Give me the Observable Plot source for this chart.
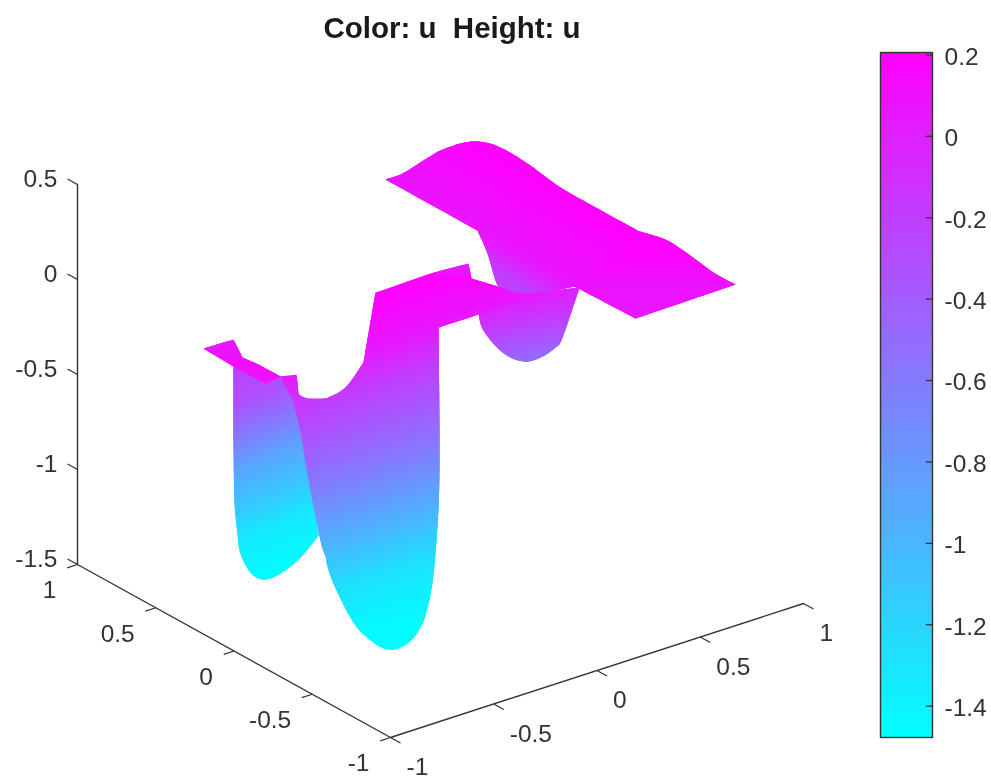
<!DOCTYPE html>
<html><head><meta charset="utf-8">
<script src="https://cdn.jsdelivr.net/npm/d3@7"></script>
<script src="https://cdn.jsdelivr.net/npm/@observablehq/plot@0.6"></script>
<style>html,body{margin:0;background:#fff}#c{position:relative;width:991px;height:779px;overflow:hidden}#c svg{position:absolute;top:0;filter:blur(0.45px)}</style>
</head><body><div id="c"></div>
<script>
// Axis tick values
const xTicks=[-1,-0.5,0,0.5,1];
const yTicks=[-1,-0.5,0,0.5,1];
const zTicks=[-1.5,-1,-0.5,0,0.5];
const colorTicks=[-1.4,-1.2,-1,-0.8,-0.6,-0.4,-0.2,0,0.2];
const colorDomain=[-1.477,0.206];
const titleText="Color: u  Height: u";

// Surface patches: outlines in the view plane (a third entry marks a sharp corner), and u along the patch
const backWell=[[4.78,3.13,1],[4.83,3.30],[5.02,3.52],[5.23,3.61],[5.40,3.57],[5.55,3.47],[5.62,3.37],[5.79,2.87,1],[5.30,2.93,1]];
const backWellU=[[4.05,0],[4.65,-0.5]];
const backSheet=[[3.85,1.79,1],[4.02,1.73],[4.23,1.60],[4.40,1.50],[4.60,1.43],[4.75,1.41],[4.93,1.44],[5.10,1.52],[5.30,1.65],[5.60,1.87],[5.97,2.08],[6.37,2.30,1],[6.20,2.50],[6.00,2.65],[5.73,2.82],[5.53,2.90],[5.33,2.93],[5.13,2.92],[5.00,2.87],[4.95,2.80],[4.87,2.53],[4.77,2.30,1]];
const backSheetU=[[-1.25,0.2],[-0.36,0.06],[-0.05,-0.22]];
const bigWallLeft=[[2.97,3.93,1],[3.07,3.98],[3.28,3.98,1],[3.28,5.62,1],[3.20,5.40],[3.07,4.73],[3.02,4.40]];
const bigWallRight=[[3.26,3.98,1],[3.45,3.87],[3.63,3.62,1],[3.75,2.92,1],[4.30,2.73,1],[4.71,2.78,1],[5.00,2.87],[5.13,2.92],[5.33,2.93],[5.53,2.90],[5.73,2.82,1],[5.79,2.85,1],[5.30,2.95,1],[4.78,3.14,1],[4.38,3.27,1],[4.39,4.40],[4.38,5.07],[4.33,5.73],[4.27,6.07],[4.20,6.27],[4.07,6.43],[3.90,6.49],[3.73,6.42],[3.53,6.22],[3.33,5.83],[3.26,5.62,1]];
const bigWallU=[[4.28,0.18],[4.71,0.05],[5.12,-0.22],[5.40,-0.35],[5.85,-0.58],[6.45,-0.93],[7.00,-1.28],[7.55,-1.45]];
const frontSheet=[[6.37,2.30,1],[6.50,2.34],[6.67,2.40],[6.87,2.53],[7.13,2.72],[7.35,2.84,1],[6.35,3.18,1],[5.80,2.89,1],[5.73,2.82],[6.00,2.65],[6.20,2.50]];
const frontSheetU=[[2.45,0.2],[2.90,0.08],[3.18,0.05]];
const tipFlap=[[4.30,2.73,1],[4.68,2.63,1],[4.71,2.78,1]];
const tipFlapU=[[2.63,0],[2.78,0.16]];
const leftWall=[[2.33,3.66,1],[2.65,3.83,1],[2.80,3.76,1],[2.97,3.93,1],[3.02,4.40,1],[3.18,5.35,1],[3.00,5.57],[2.80,5.73],[2.63,5.79],[2.50,5.72],[2.40,5.53],[2.37,5.33],[2.34,5.00],[2.33,4.40,1]];
const leftWallU=[[4.59,-0.2],[4.99,-0.33],[5.33,-0.61],[5.60,-0.85],[6.40,-1.35],[6.80,-1.45]];
const leftFlap=[[2.03,3.48,1],[2.33,3.39,1],[2.42,3.57,1],[2.58,3.64,1],[2.80,3.76,1],[2.65,3.83,1],[2.33,3.66,1]];
const leftFlapU=[[3.39,0.02],[3.60,0.12],[3.83,0.1]];
const notch=[[2.80,3.76,1],[2.96,3.74,1],[2.98,3.93,1],[3.03,4.45,1],[2.93,4.00,1]];
const notchU=[[3.74,0.05],[4.45,-0.4]];

const patches=[
  {outline:backWell,u:backWellU,tilt:0.2},
  {outline:backSheet,u:backSheetU,tilt:-0.56},
  {outline:leftWall,u:leftWallU,tilt:0.4},
  {outline:bigWallLeft,u:bigWallU,tilt:0.33},
  {outline:bigWallRight,u:bigWallU,tilt:0.33},
  {outline:frontSheet,u:frontSheetU,tilt:0},
  {outline:tipFlap,u:tipFlapU,tilt:0},
  {outline:leftFlap,u:leftFlapU,tilt:0},
  {outline:notch,u:notchU,tilt:0}
];

// Orthographic view of the axes box
const project=(x,y,z)=>({h:3.90+(x+1)*2.065-(y+1)*1.565, v:7.37-(x+1)*0.67-(y+1)*0.865-(z+1.5)*1.90});

// Round the curved runs of an outline, keeping sharp corners
function smooth(outline){
  const n=outline.length;
  const start=outline.findIndex(p=>p[2]);
  const seq=d3.range(n+1).map(i=>outline[(start+i)%n]);
  const out=[];
  let i=0;
  while(i<n){
    let j=i+1;
    while(!seq[j][2]&&j<n) j++;
    const run=seq.slice(i,j+1);
    for(let k=0;k<run.length-1;k++){
      const p1=run[k],p2=run[k+1],p0=run[k-1]||p1,p3=run[k+2]||p2;
      for(let s=0;s<8;s++){
        const t=s/8,t2=t*t,t3=t2*t;
        const f=a=>0.5*(2*p1[a]+(p2[a]-p0[a])*t+(2*p0[a]-5*p1[a]+4*p2[a]-p3[a])*t2+(3*p1[a]-p0[a]-3*p2[a]+p3[a])*t3);
        out.push([f(0),f(1)]);
      }
    }
    i=j;
  }
  return out;
}
function clip(poly,f,c,keepAbove){
  const out=[];
  for(let i=0;i<poly.length;i++){
    const a=poly[i],b=poly[(i+1)%poly.length];
    const fa=f(a)-c,fb=f(b)-c;
    const ia=keepAbove?fa>=0:fa<=0, ib=keepAbove?fb>=0:fb<=0;
    if(ia) out.push(a);
    if(ia!==ib){const t=fa/(fa-fb);out.push([a[0]+t*(b[0]-a[0]),a[1]+t*(b[1]-a[1])]);}
  }
  return out;
}
const cells=[];
let cellId=0;
for(const p of patches){
  const w=q=>q[1]+p.tilt*q[0];
  const outline=smooth(p.outline);
  const [lo,hi]=d3.extent(outline,w);
  const uAt=d3.scaleLinear().domain(p.u.map(d=>d[0])).range(p.u.map(d=>d[1])).clamp(true);
  const step=0.015;
  for(let c=lo;c<hi;c+=step){
    // each band runs on under the next one, so no seams show between them
    let band=clip(outline,w,c,true);
    band=clip(band,w,c+step*3,false);
    if(band.length<3) continue;
    const id=cellId++, u=uAt(c+step/2);
    for(const q of band) cells.push({id,h:q[0],v:q[1],u});
  }
}

const axisColor="#333";
const labelColor="#333";
const fontFamily="'Liberation Sans',Arial,Helvetica,sans-serif";
const corner=[project(-1,1,-1.5),project(-1,-1,-1.5),project(1,-1,-1.5)];
const zLine=[project(-1,1,-1.5),project(-1,1,0.5)];
const xT=xTicks.map(t=>({a:project(t,-1,-1.5),b:project(t,-1.064,-1.5),t}));
const yT=yTicks.map(t=>({a:project(-1,t,-1.5),b:project(-1.05,t,-1.5),t}));
const zT=zTicks.map(t=>({a:project(-1,1,t),b:project(-1,1.064,t),t}));
const tickLink=arr=>Plot.link(arr,{x1:d=>d.a.h,y1:d=>d.a.v,x2:d=>d.b.h,y2:d=>d.b.v,stroke:axisColor,strokeWidth:1.3});

const colorOpts={type:"linear",domain:colorDomain,range:["#00ffff","#ff00ff"]};
const main=Plot.plot({
  width:991,height:779,margin:0,
  style:{fontFamily,background:"transparent"},
  x:{domain:[0,9.91],axis:null},
  y:{domain:[7.79,0],axis:null},
  color:colorOpts,
  marks:[
    Plot.line(corner,{x:"h",y:"v",stroke:axisColor,strokeWidth:1.4}),
    Plot.line(zLine,{x:"h",y:"v",stroke:axisColor,strokeWidth:1.4}),
    tickLink(xT),tickLink(yT),tickLink(zT),
    Plot.line(cells,{x:"h",y:"v",z:"id",fill:"u",stroke:null,strokeWidth:0,curve:"linear-closed"}),
    Plot.text(xT,{x:d=>d.a.h,y:d=>d.a.v,text:d=>String(d.t),textAnchor:"start",dx:16,dy:30,fontSize:24.5,fill:labelColor}),
    Plot.text(yT,{x:d=>d.a.h,y:d=>d.a.v,text:d=>String(d.t),textAnchor:"end",dx:-21,dy:26,fontSize:24.5,fill:labelColor}),
    Plot.text(zT,{x:d=>d.a.h,y:d=>d.a.v,text:d=>String(d.t),textAnchor:"end",dx:-20,dy:-5,fontSize:24.5,fill:labelColor}),
    Plot.text([titleText],{x:()=>4.515,y:()=>0.28,text:d=>d,fontSize:29.5,fontWeight:"bold",fill:"#1a1a1a"})
  ]
});
main.style.left="0px";

const levels=128;
const rampStep=(colorDomain[1]-colorDomain[0])/levels;
const ramp=d3.range(levels).map(i=>colorDomain[0]+rampStep*i);
const bar=Plot.plot({
  width:131,height:779,marginLeft:20,marginRight:59,marginTop:52,marginBottom:42,
  style:{fontFamily,background:"transparent"},
  x:{domain:[0,1],axis:null},
  y:{domain:colorDomain,axis:null},
  color:colorOpts,
  marks:[
    Plot.rect(ramp,{x1:()=>0,x2:()=>1,y1:d=>d,y2:d=>Math.min(d+rampStep*2,colorDomain[1]),fill:d=>d+rampStep/2}),
    Plot.ruleY(colorTicks,{y:d=>d,x1:()=>0.88,x2:()=>1,stroke:axisColor,strokeWidth:1.3}),
    Plot.frame({stroke:axisColor,strokeWidth:1.4}),
    Plot.axisY(colorTicks,{anchor:"right",tickSize:0,tickPadding:12,dy:2,tickFormat:d=>String(d),fontSize:24.5,fill:labelColor,label:null})
  ]
});
bar.style.left="860px";
document.getElementById("c").append(main,bar);
</script></body></html>
